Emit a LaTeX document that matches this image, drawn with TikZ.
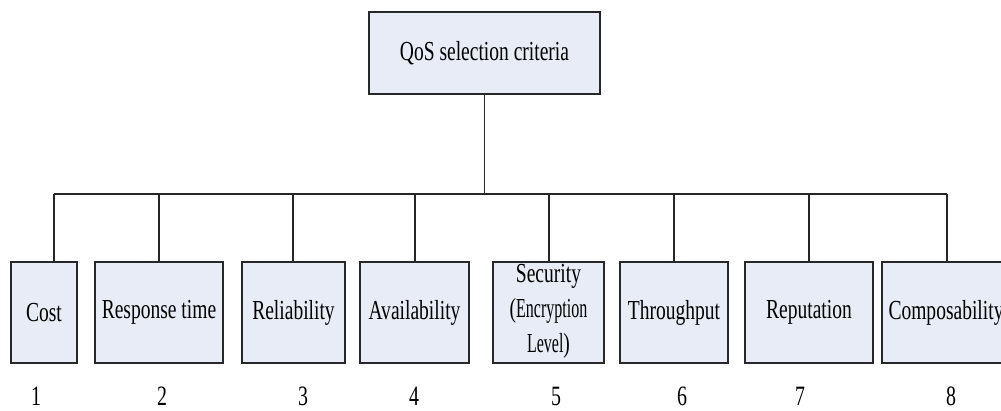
\documentclass[tikz,border=0pt]{standalone}
\usepackage{graphicx}
\usepackage{fontspec}
\setmainfont[FakeStretch=0.71]{Liberation Serif}
\definecolor{boxfill}{RGB}{231,236,247}
\definecolor{boxline}{RGB}{40,40,40}
\newcommand{\narrowed}[1]{\scalebox{0.82}[1]{#1}}
\begin{document}
\begin{tikzpicture}[x=1pt,y=-1pt,
  crit/.style={draw=boxline, fill=boxfill, line width=1.1pt, inner sep=0pt,
    minimum height=101pt, align=center,
    font=\fontsize{27.5}{35}\selectfont},
  rootbox/.style={draw=boxline, fill=boxfill, line width=1.1pt, inner sep=0pt,
    minimum width=231pt, minimum height=82pt,
    font=\fontsize{27.5}{33}\selectfont},
  link/.style={draw=black!85, line width=1.1pt},
  idx/.style={font=\fontsize{28}{33}\selectfont, inner sep=0pt}]
  \useasboundingbox (0,0) rectangle (1001,410);

  % root of the tree
  \node[rootbox] (root) at (484.5,53) {QoS selection criteria};

  % criteria boxes
  \node[crit, minimum width=66pt]  (cost)  at (44,312.5)    {Cost};
  \node[crit, minimum width=128pt] (resp)  at (159,312.5)   {Response time};
  \node[crit, minimum width=103pt] (rel)   at (293.5,312.5) {Reliability};
  \node[crit, minimum width=109pt] (avail) at (414.5,312.5) {Availability};
  \node[crit, minimum width=111pt] (sec)   at (548.5,312.5) {};
  \node[crit, minimum width=108pt] (thr)   at (674,312.5)   {Throughput};
  \node[crit, minimum width=128pt] (rep)   at (809,312.5)   {Reputation};
  \node[crit, minimum width=128pt] (comp)  at (946,312.5)   {Composability};
  \node[inner sep=0pt, align=center, font=\fontsize{27.5}{35}\selectfont] (sectext) at ([yshift=1pt]sec.center)
    {Security\\(\narrowed{Encryption}\\\narrowed{Level})};

  % bus points above each box
  \coordinate (b1) at (54,194);
  \coordinate (b2) at (159,194);
  \coordinate (b3) at (293,194);
  \coordinate (b4) at (415,194);
  \coordinate (b5) at (549,194);
  \coordinate (b6) at (674,194);
  \coordinate (b7) at (809,194);
  \coordinate (b8) at (947,194);

  % connectors
  \draw[link] (root.south) -- (root.south |- b1);
  \draw[link] (b1) -- (b8);
  \draw[link] (b1) -- (b1 |- cost.north);
  \draw[link] (b2) -- (b2 |- resp.north);
  \draw[link] (b3) -- (b3 |- rel.north);
  \draw[link] (b4) -- (b4 |- avail.north);
  \draw[link] (b5) -- (b5 |- sec.north);
  \draw[link] (b6) -- (b6 |- thr.north);
  \draw[link] (b7) -- (b7 |- rep.north);
  \draw[link] (b8) -- (b8 |- comp.north);

  % index numbers
  \node[idx] (n1) at (36,396)  {1};
  \node[idx] (n2) at (162,396) {2};
  \node[idx] (n3) at (303,396) {3};
  \node[idx] (n4) at (414,396) {4};
  \node[idx] (n5) at (556,396) {5};
  \node[idx] (n6) at (682,396) {6};
  \node[idx] (n7) at (800,396) {7};
  \node[idx] (n8) at (951,396) {8};
\end{tikzpicture}
\end{document}
